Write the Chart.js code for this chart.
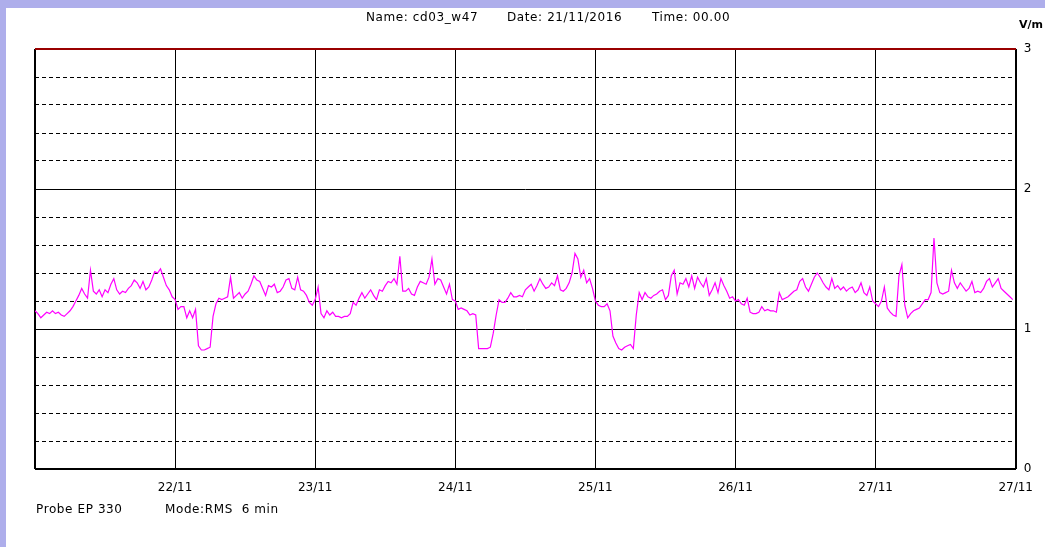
<!DOCTYPE html>
<html>
<head>
<meta charset="utf-8">
<script src="https://cdn.jsdelivr.net/npm/chart.js@4.4.1/dist/chart.umd.min.js"></script>
<style>
  html, body { margin: 0; padding: 0; background: #ffffff; }
  body { width: 1045px; height: 547px; position: relative; overflow: hidden; font-family: "DejaVu Sans", sans-serif; }
  #wrap { position: absolute; left: 0; top: 0; width: 1045px; height: 547px; }
  canvas { display: block; }
  .strip { position: absolute; background: #aeaeeb; }
  .txt { position: absolute; font-size: 12px; line-height: 14px; color: #000; white-space: pre; letter-spacing: 0.6px; }
  .unit { position: absolute; font-size: 11px; line-height: 13px; font-weight: bold; color: #000; white-space: pre; }
</style>
</head>
<body>
<div id="wrap"><canvas id="c" width="1045" height="547"></canvas></div>
<div class="strip" style="left:0;top:0;width:1045px;height:8px;"></div>
<div class="strip" style="left:0;top:0;width:6px;height:547px;"></div>
<div class="txt" style="left:366px;top:10px;">Name: cd03_w47</div>
<div class="txt" style="left:507px;top:10px;">Date: 21/11/2016</div>
<div class="txt" style="left:652px;top:10px;">Time: 00.00</div>
<div class="unit" style="left:1019px;top:18px;">V/m</div>
<div class="txt" style="left:36px;top:502px;">Probe EP 330</div>
<div class="txt" style="left:165px;top:502px;">Mode:RMS  6 min</div>
<script>
// Field strength (V/m), one value every 30 minutes
const nov21 = [1.13,1.11,1.08,1.10,1.12,1.11,1.13,1.11,1.12,1.10,1.09,1.11,1.13,1.16,1.20,1.24,1.29,1.25,1.22,1.42,1.27,1.25,1.28,1.23,1.28,1.26,1.32,1.36,1.28,1.25,1.27,1.26,1.29,1.31,1.35,1.33,1.29,1.34,1.28,1.30,1.35,1.41,1.40,1.43,1.37,1.31,1.28,1.23];
const nov22 = [1.21,1.14,1.16,1.16,1.08,1.13,1.08,1.14,0.88,0.85,0.85,0.86,0.87,1.09,1.18,1.22,1.21,1.22,1.23,1.37,1.22,1.24,1.26,1.22,1.25,1.27,1.32,1.38,1.35,1.34,1.29,1.24,1.31,1.30,1.32,1.26,1.27,1.30,1.35,1.36,1.29,1.28,1.37,1.28,1.27,1.24,1.19,1.17];
const nov23 = [1.21,1.30,1.11,1.08,1.13,1.10,1.12,1.09,1.09,1.08,1.09,1.09,1.11,1.19,1.17,1.22,1.26,1.22,1.25,1.28,1.24,1.21,1.28,1.27,1.31,1.34,1.33,1.36,1.32,1.52,1.27,1.27,1.29,1.25,1.24,1.30,1.34,1.33,1.32,1.37,1.50,1.32,1.36,1.35,1.30,1.25,1.32,1.21];
const nov24 = [1.20,1.14,1.15,1.14,1.13,1.10,1.11,1.10,0.86,0.86,0.86,0.86,0.87,0.97,1.10,1.21,1.19,1.19,1.22,1.26,1.23,1.23,1.24,1.23,1.28,1.30,1.32,1.27,1.31,1.36,1.32,1.29,1.30,1.33,1.31,1.38,1.28,1.27,1.29,1.33,1.40,1.54,1.50,1.37,1.42,1.33,1.36,1.29];
const nov25 = [1.20,1.17,1.16,1.16,1.18,1.13,0.95,0.90,0.86,0.85,0.87,0.88,0.89,0.86,1.10,1.26,1.21,1.26,1.23,1.22,1.24,1.25,1.27,1.28,1.21,1.24,1.38,1.42,1.25,1.33,1.32,1.36,1.30,1.38,1.29,1.37,1.33,1.30,1.36,1.24,1.28,1.33,1.26,1.36,1.31,1.27,1.22,1.23];
const nov26 = [1.20,1.21,1.18,1.17,1.22,1.12,1.11,1.11,1.12,1.16,1.13,1.14,1.13,1.13,1.12,1.26,1.21,1.22,1.23,1.25,1.27,1.28,1.34,1.36,1.30,1.27,1.32,1.37,1.40,1.37,1.33,1.30,1.28,1.36,1.29,1.31,1.28,1.30,1.27,1.29,1.30,1.26,1.28,1.33,1.26,1.24,1.30,1.20];
const nov27 = [1.18,1.16,1.20,1.30,1.15,1.12,1.10,1.09,1.38,1.46,1.17,1.08,1.11,1.13,1.14,1.15,1.18,1.21,1.21,1.26,1.65,1.33,1.26,1.25,1.26,1.27,1.42,1.33,1.29,1.33,1.30,1.27,1.29,1.34,1.26,1.27,1.26,1.29,1.34,1.36,1.30,1.33,1.36,1.29,1.27,1.25,1.23,1.21];

const days = [nov21, nov22, nov23, nov24, nov25, nov26, nov27];
const sampleHours = 0.5;            // time between readings
const xTickLabels = ['', '22/11', '23/11', '24/11', '25/11', '26/11', '27/11', '27/11'];
const yTickLabels = ['0', '1', '2', '3'];

const points = [];
days.forEach((vals, d) => {
  vals.forEach((v, i) => points.push({ x: d * 24 + i * sampleHours, y: v }));
});

const isInt = v => Math.abs(v - Math.round(v)) < 1e-6;

new Chart(document.getElementById('c'), {
  type: 'line',
  data: {
    datasets: [{
      data: points,
      borderColor: '#ff00ff',
      borderWidth: 1.2,
      pointRadius: 0,
      tension: 0,
      fill: false,
      yAxisID: 'y'
    }]
  },
  options: {
    responsive: false,
    animation: false,
    events: [],
    layout: { padding: { left: 35, top: 49, right: 0, bottom: 0 } },
    plugins: { legend: { display: false }, tooltip: { enabled: false }, title: { display: false } },
    scales: {
      x: {
        type: 'linear',
        position: 'bottom',
        min: 0, max: 168,
        afterFit: s => { s.height = 78; },
        border: { display: false },
        grid: {
          drawTicks: false,
          color: '#000',
          lineWidth: ctx => (ctx.tick && (ctx.tick.value === 0 || ctx.tick.value === 168)) ? 2 : 1
        },
        ticks: {
          stepSize: 24,
          autoSkip: false,
          maxRotation: 0,
          padding: 12,
          color: '#000',
          font: { family: 'DejaVu Sans', size: 12 },
          callback: v => xTickLabels[Math.round(v / 24)]
        }
      },
      yMinor: {
        type: 'linear',
        position: 'left',
        min: 0, max: 3,
        afterFit: s => { s.width = 0; },
        border: { display: false, dash: [4, 3] },
        grid: {
          drawTicks: false,
          lineWidth: 1,
          color: ctx => (ctx.tick && isInt(ctx.tick.value)) ? 'rgba(0,0,0,0)' : '#000'
        },
        ticks: { display: false, stepSize: 0.2 }
      },
      y: {
        type: 'linear',
        position: 'right',
        min: 0, max: 3,
        afterFit: s => { s.width = 29; },
        border: { display: false },
        grid: {
          drawTicks: false,
          color: ctx => (ctx.tick && ctx.tick.value === 3) ? '#990000' : '#000',
          lineWidth: ctx => (ctx.tick && (ctx.tick.value === 3 || ctx.tick.value === 0)) ? 2 : 1
        },
        ticks: {
          stepSize: 1,
          padding: 8,
          color: '#000',
          font: { family: 'DejaVu Sans', size: 12 },
          callback: v => yTickLabels[Math.round(v)]
        }
      }
    }
  }
});
</script>
</body>
</html>
